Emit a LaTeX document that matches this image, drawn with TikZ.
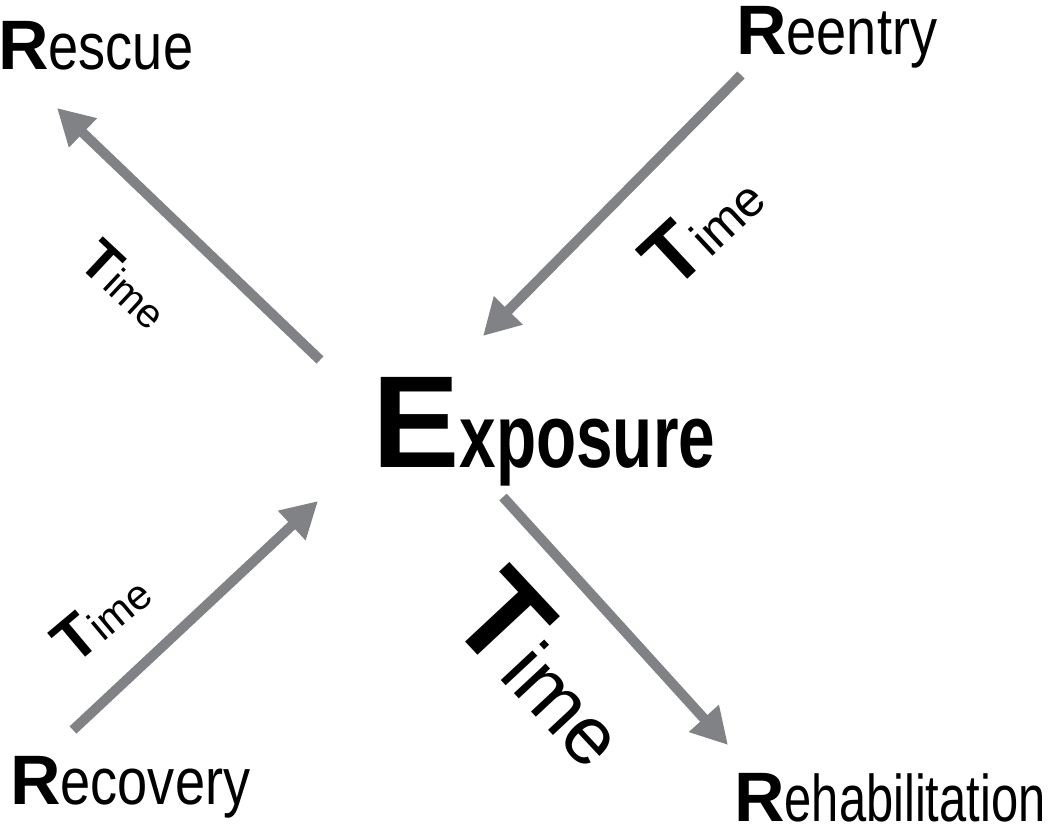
\documentclass[tikz,border=0pt]{standalone}
\usepackage{fontspec}
\setmainfont{Liberation Sans}
\newfontfamily\narrowfont[FakeStretch=0.82]{Liberation Sans}
\newfontfamily\tightfont[FakeStretch=0.74]{Liberation Sans}
\newfontfamily\boldnarrowfont[FakeStretch=0.73]{Liberation Sans}
\usetikzlibrary{arrows.meta}
\definecolor{arrowgrey}{RGB}{128,130,134}
\newcommand{\rword}[2]{{\fontsize{70}{70}\selectfont\bfseries #1}{\narrowfont\fontsize{66}{66}\selectfont #2}}
\newcommand{\timelabel}[2]{{\fontsize{#1}{#1}\selectfont\bfseries T}{\fontsize{#2}{#2}\selectfont ime}}
\begin{document}
\begin{tikzpicture}[x=1pt,y=-1pt,
  word/.style={anchor=base west,inner sep=0pt},
  flow/.style={arrowgrey,line width=10pt,-{Triangle[length=36pt,width=38pt]}}]
\useasboundingbox (0,0) rectangle (1050,826);

\node[word] (rescue) at (-2,70) {\rword{R}{escue}};
\node[word] (reentry) at (736,55) {\rword{R}{eentry}};
\node[word] (recovery) at (10,804) {\rword{R}{ecovery}};
\node[word] (rehab) at (734,821) {{\fontsize{70}{70}\selectfont\bfseries R}{\tightfont\fontsize{66}{66}\selectfont ehabilitation}};
\node[word] (exposure) at (372,467) {{\fontsize{131}{131}\selectfont\bfseries E}{\boldnarrowfont\bfseries\fontsize{90}{90}\selectfont xposure}};

\coordinate (rescue-tail) at (320,360);
\coordinate (rescue-tip) at (57,108);
\coordinate (reentry-tail) at (741,75);
\coordinate (reentry-tip) at (483,336);
\coordinate (rehab-tail) at (503,497);
\coordinate (rehab-tip) at (728,745);
\coordinate (recovery-tail) at (73,730);
\coordinate (recovery-tip) at (318,501);

\draw[flow] (rescue-tail) -- (rescue-tip);
\draw[flow] (reentry-tail) -- (reentry-tip);
\draw[flow] (rehab-tail) -- (rehab-tip);
\draw[flow] (recovery-tail) -- (recovery-tip);

\node[word,rotate=-43] (time-rescue) at (76,264) {\timelabel{56}{41}};
\node[word,rotate=43] (time-reentry) at (673,293) {\timelabel{83}{50}};
\node[word,rotate=-47] (time-rehab) at (445,620) {\timelabel{126}{82}};
\node[word,rotate=40] (time-recovery) at (74,667) {\timelabel{62}{42}};
\end{tikzpicture}
\end{document}
